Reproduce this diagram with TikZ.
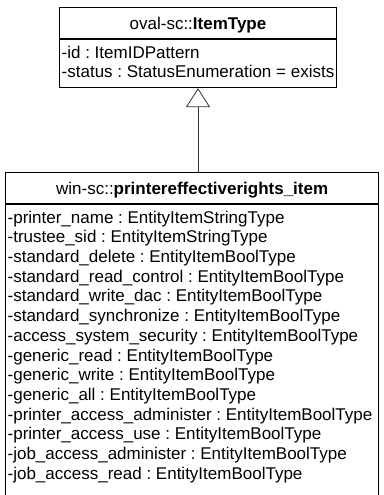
\documentclass[tikz,border=0pt]{standalone}
\usepackage{fontspec}
\setmainfont{Liberation Sans}
\usetikzlibrary{arrows.meta, shapes.multipart}
\newcommand{\titlestrut}{\rule[-9pt]{0pt}{30pt}}
\newcommand{\firststrut}{\rule{0pt}{18.5pt}}
\begin{document}
\begin{tikzpicture}[x=1pt, y=-1pt, font=\fontsize{17}{19.7}\selectfont\frenchspacing]

	\tikzstyle{umlclass}=[rectangle split, rectangle split parts=2, rectangle split part align={center, left}, draw, line width=1.3pt, fill=white, align=left, inner xsep=2pt, inner ysep=0pt]
	\tikzstyle{arc}=[-{Triangle[open, length=19pt, width=24pt]}, line width=0.8pt, black!80]

	\useasboundingbox (0,0) rectangle (383,495);

	% placement des noeuds
	\node[umlclass, anchor=north] (item) at (198,7) {\titlestrut oval-sc::\textbf{ItemType}
		\nodepart{two}\firststrut -id : ItemIDPattern\\-status : StatusEnumeration = exists\rule[-9pt]{0pt}{9pt}};
	\node[umlclass, anchor=north west, minimum width=373pt] (printer) at (5,172) {\titlestrut win-sc::\textbf{printereffectiverights\_item}
		\nodepart{two}\firststrut -printer\_name : EntityItemStringType\\-trustee\_sid : EntityItemStringType\\-standard\_delete : EntityItemBoolType\\-standard\_read\_control : EntityItemBoolType\\-standard\_write\_dac : EntityItemBoolType\\-standard\_synchronize : EntityItemBoolType\\-access\_system\_security : EntityItemBoolType\\-generic\_read : EntityItemBoolType\\-generic\_write : EntityItemBoolType\\-generic\_all : EntityItemBoolType\\-printer\_access\_administer : EntityItemBoolType\\-printer\_access\_use : EntityItemBoolType\\-job\_access\_administer : EntityItemBoolType\\-job\_access\_read : EntityItemBoolType\rule[-16.5pt]{0pt}{16.5pt}};
	\draw[arc] (printer.north -| item.south) -- (item.south);

\end{tikzpicture}
\end{document}
